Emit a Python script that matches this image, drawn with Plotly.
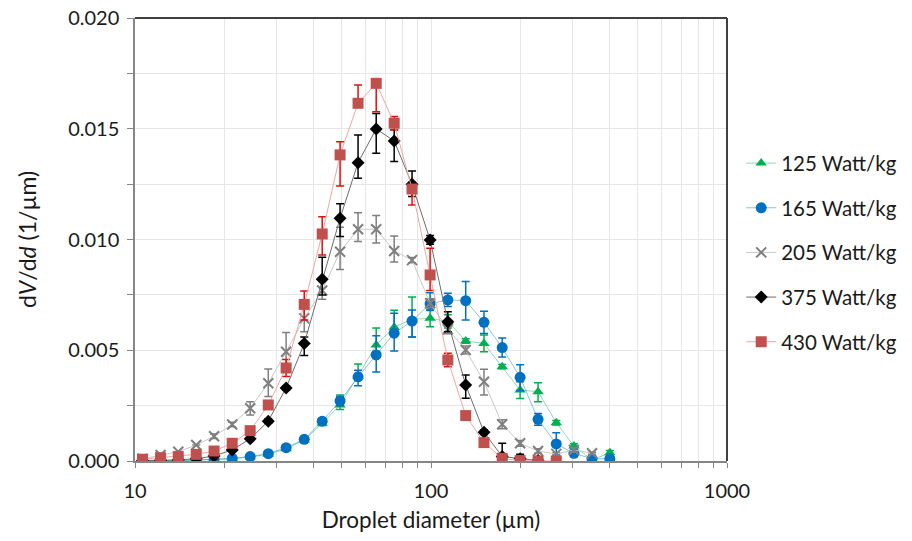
import plotly.graph_objects as go

# Droplet diameter bins (µm)
diam = [10.6, 12.2, 14.0, 16.1, 18.5, 21.3, 24.5, 28.2, 32.4, 37.3, 42.9, 49.3, 56.7,
        65.3, 75.1, 86.3, 99.3, 114, 131, 151, 174, 200, 230, 265, 304, 350, 402]

# 125 Watt/kg
y125 = [0.0, 0.00001, 0.00002, 0.00003, 0.00006, 0.0001, 0.00018, 0.0003, 0.00055, 0.00095,
        0.0017, 0.00253, 0.00384, 0.00524, 0.00604, 0.0064, 0.00644, 0.0063, 0.00542, 0.00531,
        0.00426, 0.0032, 0.00313, 0.00173, 0.00068, 0.00005, 0.00037]
e125_up = [0, 0, 0, 0, 0, 0, 0, 0, 0, 0.0001, 0.0001, 0.00045, 0.00054, 0.00077, 0.00077, 0.001,
           0.0004, 0.0003, 0.0001, 0.00038, 0.0001, 0.00038, 0.0004, 0.0001, 0.0001, 0, 0.0001]
e125_dn = [0, 0, 0, 0, 0, 0, 0, 0, 0, 0.0001, 0.0001, 0.0002, 0.0002, 0.0003, 0.0003, 0.0008,
           0.00038, 0.0003, 0.0001, 0.00038, 0.0001, 0.00038, 0.00045, 0.0001, 0.0001, 0, 0.0001]

# 165 Watt/kg
y165 = [0.0, 0.00001, 0.00002, 0.00004, 0.00008, 0.00012, 0.0002, 0.00033, 0.0006, 0.00098,
        0.0018, 0.00271, 0.0038, 0.00479, 0.00577, 0.00632, 0.0071, 0.00727, 0.00724, 0.00626,
        0.00512, 0.00378, 0.00188, 0.00077, 0.00035, 0.0001, 0.0001]
e165_up = [0, 0, 0, 0, 0, 0, 0, 0, 0.00005, 0.0001, 0.0001, 0.0002, 0.0003, 0.00086, 0.0009, 0.0005,
           0.0005, 0.0003, 0.00086, 0.0005, 0.00043, 0.00056, 0.00027, 0.0005, 0.0001, 0, 0]
e165_dn = [0, 0, 0, 0, 0, 0, 0, 0, 0.00005, 0.0001, 0.0001, 0.0002, 0.0004, 0.00077, 0.0008, 0.00072,
           0.0003, 0.0003, 0.00087, 0.0005, 0.00043, 0.0006, 0.00027, 0.0005, 0.0001, 0, 0]

# 205 Watt/kg
y205 = [0.0001, 0.00027, 0.00042, 0.00072, 0.00112, 0.00165, 0.00238, 0.00351, 0.00493, 0.00644,
        0.0077, 0.00945, 0.01046, 0.01046, 0.00948, 0.00907, 0.00712, 0.00595, 0.00501, 0.00358,
        0.00166, 0.0008, 0.00045, 0.00032, 0.0005, 0.00035]
e205_up = [0, 0, 0, 0, 0.0001, 0.0001, 0.0003, 0.00064, 0.00087, 0.00056, 0.0004, 0.0011, 0.00075,
           0.00062, 0.00068, 0.00012, 0.0002, 0.0002, 0.00018, 0.00056, 0.0002, 0.00013, 0.0001, 0.00005, 0.0001, 0.00005]
e205_dn = [0, 0, 0, 0, 0.0001, 0.0001, 0.0003, 0.0006, 0.0008, 0.0006, 0.0004, 0.0008, 0.00055,
           0.00062, 0.0005, 0.00012, 0.0002, 0.0002, 0.00018, 0.0006, 0.0002, 0.00013, 0.0001, 0.00005, 0.0001, 0.00005]

# 375 Watt/kg
y375 = [0.00002, 0.00003, 0.00005, 0.0001, 0.00023, 0.0005, 0.001, 0.0018, 0.0033, 0.0053,
        0.0082, 0.01096, 0.01347, 0.01499, 0.01445, 0.01249, 0.00998, 0.00629, 0.00343, 0.0013,
        0.0002, 0.0001, 0.00002]
e375_up = [0, 0, 0, 0, 0, 0, 0.00005, 0.0001, 0.0001, 0.0003, 0.001, 0.00065, 0.00125, 0.0007,
           0.0005, 0.0006, 0.0002, 0.00045, 0.00045, 0.0001, 0.0006, 0.0002, 0]
e375_dn = [0, 0, 0, 0, 0, 0, 0.00005, 0.0001, 0.0001, 0.00054, 0.0007, 0.00083, 0.0007, 0.0011,
           0.00093, 0.00055, 0.0002, 0.00045, 0.0006, 0.0001, 0, 0, 0]

# 430 Watt/kg
y430 = [0.00008, 0.00015, 0.0002, 0.0003, 0.00045, 0.0008, 0.00137, 0.00253, 0.0042, 0.00707,
        0.01025, 0.01382, 0.01615, 0.01705, 0.01525, 0.01228, 0.0084, 0.00456, 0.00205, 0.00083,
        0.00012, 0.00002, 0.0, 0.0]
e430_up = [0, 0, 0, 0, 0, 0, 0.00005, 0.0001, 0.00038, 0.0006, 0.00078, 0.00059, 0.00083, 0.0,
           0.0003, 0.0, 0.0012, 0.0003, 0.0001, 0.0001, 0, 0, 0, 0]
e430_dn = [0, 0, 0, 0, 0, 0, 0.00005, 0.0001, 0.00038, 0.0007, 0.00095, 0.0014, 0.0, 0.00128,
           0.0003, 0.00072, 0.0007, 0.0003, 0.0001, 0.0001, 0, 0, 0, 0]

series = [
    ("125 Watt/kg", y125, e125_up, e125_dn, "#00B050", "rgba(0,176,80,0.45)", "triangle-up", 10, "#00B050"),
    ("165 Watt/kg", y165, e165_up, e165_dn, "#0070C0", "rgba(0,112,192,0.45)", "circle", 11, "#0070C0"),
    ("205 Watt/kg", y205, e205_up, e205_dn, "#7F7F7F", "#C8C8C8", "x-thin-open", 10, "#7F7F7F"),
    ("375 Watt/kg", y375, e375_up, e375_dn, "#000000", "#6E6E6E", "diamond", 10, "#000000"),
    ("430 Watt/kg", y430, e430_up, e430_dn, "#C0504D", "#F0A6A6", "square", 11, "#E01010"),
]

FONT = "Lato"
TXT = "#1a1a1a"
fig = go.Figure()
for name, ys, eu, ed, mcol, lcol, sym, size, ecol in series:
    n = len(ys)
    marker = dict(color=mcol, symbol=sym, size=size)
    if sym == "x-thin-open":
        marker["line"] = dict(color=mcol, width=2)
    fig.add_trace(go.Scatter(
        x=diam[:n], y=ys, name=name, mode="lines+markers",
        line=dict(color=lcol, width=1),
        marker=marker,
        error_y=dict(type="data", symmetric=False, array=eu, arrayminus=ed,
                     color=ecol, thickness=1.5, width=4),
        legendgroup=name,
    ))

axis_col = "#868686"
grid_col = "#E6E6E6"
fig.update_xaxes(
    type="log", range=[1, 3], dtick=1, automargin=False, ticklabeloverflow="allow",
    showline=True, linecolor=axis_col, linewidth=1.5,
    ticks="outside", ticklen=5, tickcolor=axis_col, ticklabelstandoff=6,
    showgrid=True, gridcolor=grid_col, gridwidth=1,
    minor=dict(dtick="D1", showgrid=True, gridcolor=grid_col, ticks="outside",
               ticklen=5, tickcolor=axis_col),
    zeroline=False,
    tickfont=dict(family=FONT, size=20, color=TXT),
    title=dict(text="Droplet diameter (µm)", font=dict(family=FONT, size=22.5, color=TXT),
               standoff=17),
)
fig.update_yaxes(
    range=[0, 0.02], dtick=0.005, tickformat=".3f", automargin=False, ticklabeloverflow="allow",
    showline=True, linecolor=axis_col, linewidth=1.5,
    ticks="outside", ticklen=6, tickcolor=axis_col, ticklabelstandoff=4,
    showgrid=True, gridcolor=grid_col, gridwidth=1,
    minor=dict(dtick=0.0025, showgrid=True, gridcolor=grid_col, ticks="outside",
               ticklen=6, tickcolor=axis_col),
    zeroline=False,
    tickfont=dict(family=FONT, size=20, color=TXT),
    title=dict(text="d<i>V</i>/d<i>d</i> (1/µm)", font=dict(family=FONT, size=23, color=TXT),
               standoff=25),
)

fig.add_shape(type="line", xref="paper", yref="paper", x0=0, x1=1, y0=1, y1=1,
              line=dict(color="#404040", width=2), layer="above")
fig.add_shape(type="line", xref="paper", yref="paper", x0=1, x1=1, y0=0, y1=1,
              line=dict(color="#404040", width=2), layer="above")

# The page body keeps its default 8px margin on every side, so the figure is
# 16px smaller than the window and the plot area is placed to compensate.
fig.update_layout(
    width=896, height=525,
    margin=dict(l=127, r=177, t=10, b=72, autoexpand=False),
    paper_bgcolor="white", plot_bgcolor="white",
    font=dict(family=FONT, color=TXT),
    showlegend=True,
    legend=dict(x=1.024, y=0.47, xanchor="left", yanchor="middle",
                font=dict(family=FONT, size=20.5, color=TXT),
                tracegroupgap=15, itemwidth=30, borderwidth=0,
                bgcolor="rgba(0,0,0,0)"),
)

fig.write_html("out.html")
